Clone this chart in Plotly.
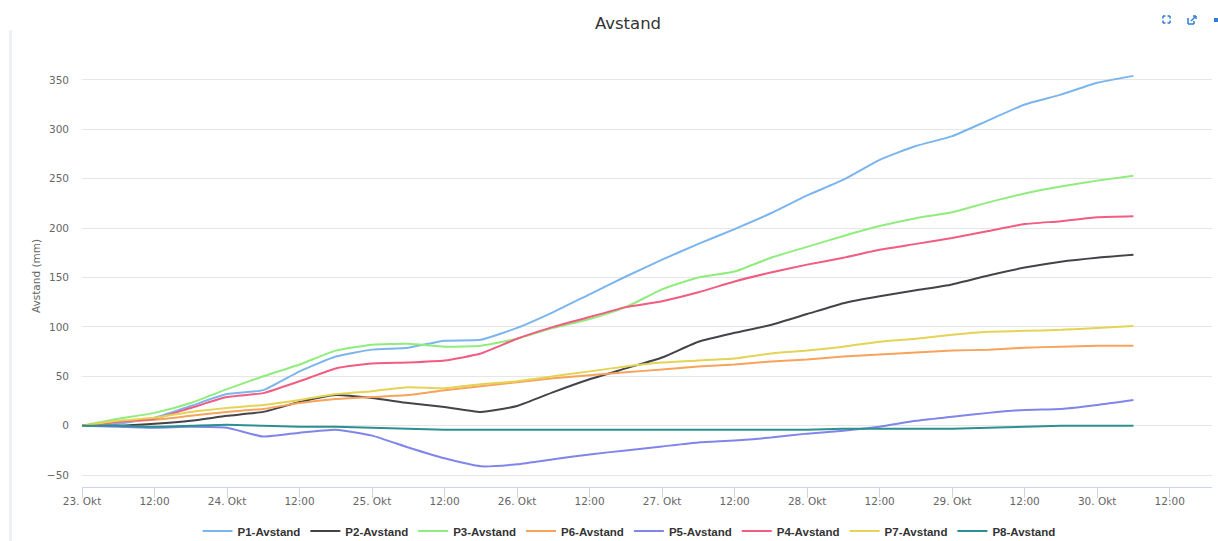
import plotly.graph_objects as go
import pandas as pd

# ---- data (mm), sampled every 6 hours from 23. Okt 00:00 ----
start_time = "2023-10-23 00:00"
n_points = 30
times = pd.date_range(start_time, periods=n_points, freq="6h")

series_names = ["P1-Avstand", "P2-Avstand", "P3-Avstand", "P6-Avstand",
                "P5-Avstand", "P4-Avstand", "P7-Avstand", "P8-Avstand"]

p1 = [0, 2, 8, 20, 32, 36, 55, 70, 77, 79, 86, 87, 99, 115, 133, 151, 168, 184,
      199, 215, 233, 249, 269, 283, 293, 309, 325, 335, 347, 354]
p2 = [0, 0, 2, 5, 10, 14, 24, 31, 28, 23, 19, 14, 20, 34, 47, 58, 69, 85,
      94, 102, 113, 124, 131, 137, 143, 152, 160, 166, 170, 173]
p3 = [0, 7, 13, 23, 37, 50, 62, 76, 82, 83, 80, 81, 88, 99, 108, 120, 138, 150,
      156, 170, 181, 192, 202, 210, 216, 226, 235, 242, 248, 253]
p6 = [0, 4, 6, 10, 14, 17, 23, 27, 29, 31, 36, 40, 44, 48, 51, 54, 57, 60,
      62, 65, 67, 70, 72, 74, 76, 77, 79, 80, 81, 81]
p5 = [0, -1, -2, -1, -2, -11, -7, -4, -10, -22, -33, -41, -39, -34, -29, -25, -21, -17,
      -15, -12, -8, -5, -1, 5, 9, 13, 16, 17, 21, 26]
p4 = [0, 4, 7, 18, 29, 33, 45, 58, 63, 64, 66, 73, 88, 100, 110, 120, 126, 135,
      146, 155, 163, 170, 178, 184, 190, 197, 204, 207, 211, 212]
p7 = [0, 5, 8, 14, 18, 21, 26, 32, 35, 39, 38, 42, 45, 50, 55, 60, 64, 66,
      68, 73, 76, 80, 85, 88, 92, 95, 96, 97, 99, 101]
p8 = [0, 0, -1, 0, 1, 0, -1, -1, -2, -3, -4, -4, -4, -4, -4, -4, -4, -4,
      -4, -4, -4, -3, -3, -3, -3, -2, -1, 0, 0, 0]

series_values = [p1, p2, p3, p6, p5, p4, p7, p8]
colors = ["#7cb5ec", "#434348", "#90ed7d", "#f7a35c",
          "#8085e9", "#f15c80", "#e4d354", "#2b908f"]

tick_times = pd.date_range("2023-10-23 00:00", "2023-10-30 12:00", freq="12h")
tick_labels = ["23. Okt", "12:00", "24. Okt", "12:00", "25. Okt", "12:00",
               "26. Okt", "12:00", "27. Okt", "12:00", "28. Okt", "12:00",
               "29. Okt", "12:00", "30. Okt", "12:00"]
y_ticks = [-50, 0, 50, 100, 150, 200, 250, 300, 350]

FONT = "DejaVu Sans"
LEG_FONT = "Liberation Sans"
W, H = 1218, 541
ML, MR, MT, MB = 82, 6, 65, 54

fig = go.Figure()
for name, vals, col in zip(series_names, series_values, colors):
    fig.add_trace(go.Scatter(
        x=times, y=vals, name=name, mode="lines",
        line=dict(color=col, width=2, shape="spline", smoothing=0.5),
    ))

def px2paper(px, py):
    return ((px - ML) / (W - ML - MR), (H - MB - py) / (H - MT - MB))

shapes = []
# faint container border on the left
x0, y0 = px2paper(9, 30)
x1, y1 = px2paper(12, 541)
shapes.append(dict(type="rect", xref="paper", yref="paper", x0=x0, x1=x1, y0=y1, y1=y0,
                   fillcolor="#eef2f5", line=dict(width=0), layer="below"))

# small toolbar icons at top right
icon_col = "#2f7ed8"
def seg(ax, ay, bx, by):
    a = px2paper(ax, ay); b = px2paper(bx, by)
    shapes.append(dict(type="line", xref="paper", yref="paper", x0=a[0], y0=a[1], x1=b[0], y1=b[1],
                       line=dict(color=icon_col, width=1.5)))
# fullscreen-like icon
for (cx, cy, dx, dy) in [(1163, 16, 1, 1), (1170, 16, -1, 1), (1163, 23, 1, -1), (1170, 23, -1, -1)]:
    seg(cx, cy, cx + 2.5 * dx, cy)
    seg(cx, cy, cx, cy + 2.5 * dy)
# external-link icon
seg(1188, 18, 1188, 24); seg(1188, 24, 1194, 24); seg(1194, 24, 1194, 21)
seg(1191, 21, 1196, 16); seg(1193, 16, 1196, 16); seg(1196, 16, 1196, 19)
# partial square
a = px2paper(1214, 18); b = px2paper(1218, 22)
shapes.append(dict(type="rect", xref="paper", yref="paper", x0=a[0], y0=b[1], x1=b[0], y1=a[1],
                   fillcolor=icon_col, line=dict(width=0)))

fig.update_layout(
    width=W, height=H,
    margin=dict(l=ML, r=MR, t=MT, b=MB, autoexpand=False),
    paper_bgcolor="white", plot_bgcolor="white",
    font=dict(family=FONT, size=11, color="#666666"),
    title=dict(text="Avstand", x=628 / W, xref="container", xanchor="center",
               y=1 - 23 / H, yanchor="middle",
               font=dict(family=FONT, size=16.5, color="#333333")),
    showlegend=True,
    legend=dict(orientation="h", x=px2paper(629, 0)[0], xref="paper", xanchor="center",
                y=px2paper(0, 531)[1], yref="paper", yanchor="middle",
                font=dict(family=LEG_FONT, size=11.5, color="#333333", weight="bold"),
                itemwidth=30, tracegroupgap=0, bgcolor="rgba(0,0,0,0)"),
    shapes=shapes,
    xaxis=dict(
        range=[pd.Timestamp("2023-10-23 00:00"), pd.Timestamp("2023-10-30 19:00")],
        tickvals=tick_times, ticktext=tick_labels, tickangle=0,
        showgrid=False, zeroline=False,
        showline=True, linecolor="#ccd6eb", linewidth=1,
        ticks="outside", ticklen=10, tickcolor="#ccd6eb", tickwidth=1,
        tickfont=dict(family=FONT, size=10.5, color="#666666"),
        ticklabelstandoff=-6,
    ),
    yaxis=dict(
        range=[-62, 365],
        tickvals=y_ticks,
        showgrid=True, gridcolor="#e6e6e6", gridwidth=1,
        zeroline=False, showline=False, ticks="",
        tickfont=dict(family=FONT, size=10.5, color="#666666"),
        ticklabelstandoff=12,
        title=dict(text="Avstand (mm)", standoff=4,
                   font=dict(family=FONT, size=10.5, color="#666666")),
    ),
)

fig.write_html("out.html", config={"displayModeBar": False},
               post_script="document.body.style.margin='0';document.body.style.overflow='hidden';")
